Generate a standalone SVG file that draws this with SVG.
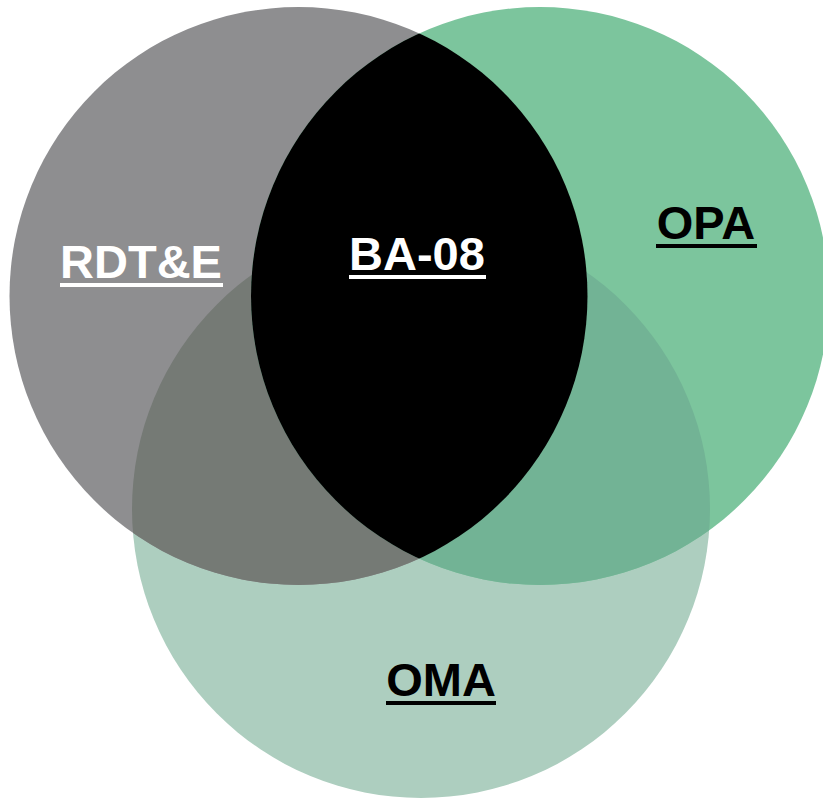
<svg xmlns="http://www.w3.org/2000/svg" width="823" height="798" viewBox="0 0 823 798">
  <style>
    .lbl { font-family: "Liberation Sans", Arial, sans-serif; font-weight: bold; font-size: 47px; text-anchor: middle; }
    .w { fill: #ffffff; }
    .k { fill: #000000; }
  </style>
  <defs>
    <clipPath id="cGray"><circle cx="298.5" cy="296" r="289"/></clipPath>
    <clipPath id="cGreen"><circle cx="540" cy="296" r="289"/></clipPath>
  </defs>
  <rect width="823" height="798" fill="#ffffff"/>
  <g id="oma">
    <circle cx="421" cy="509" r="289" fill="#adcebf"/>
  </g>
  <g id="rdte">
    <circle cx="298.5" cy="296" r="289" fill="#8e8e90"/>
  </g>
  <g id="opa">
    <circle cx="540" cy="296" r="289" fill="#7cc59d"/>
  </g>
  <g id="overlaps">
    <circle cx="421" cy="509" r="289" fill="#757a75" clip-path="url(#cGray)"/>
    <circle cx="421" cy="509" r="289" fill="#72b395" clip-path="url(#cGreen)"/>
  </g>
  <g id="ba08">
    <circle cx="298.5" cy="296" r="289" fill="#000000" clip-path="url(#cGreen)"/>
  </g>
  <g id="labels">
    <text class="lbl w" x="141" y="278">RDT&amp;E</text>
    <rect class="w" x="60" y="283" width="163" height="4"/>
    <text class="lbl w" x="417" y="270">BA-08</text>
    <rect class="w" x="349" y="275" width="137" height="4"/>
    <text class="lbl k" x="706" y="239">OPA</text>
    <rect class="k" x="656" y="244" width="101" height="4"/>
    <text class="lbl k" x="441" y="696">OMA</text>
    <rect class="k" x="386" y="701" width="110" height="4"/>
  </g>
</svg>
